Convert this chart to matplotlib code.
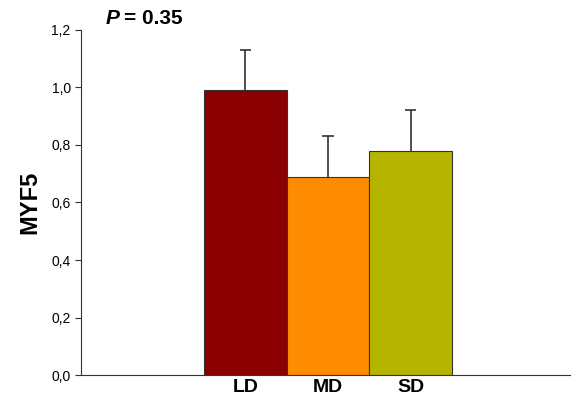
import matplotlib.pyplot as plt
from matplotlib.ticker import FuncFormatter

groups = ["LD", "MD", "SD"]
means = [0.99, 0.69, 0.78]
errors = [0.14, 0.14, 0.14]
colors = ["#8b0000", "#ff8c00", "#b5b500"]

plt.rcParams['font.family'] = ['Liberation Sans', 'DejaVu Sans']

fig = plt.figure(figsize=(5.71, 3.99), dpi=100)
ax = fig.add_axes([0.142, 0.06, 0.856, 0.865])

x = list(range(len(groups)))
ax.bar(x, means, width=1.0, color=colors, edgecolor="#333333", linewidth=0.8, zorder=2)

# upper-only error bars
tops = [m + e for m, e in zip(means, errors)]
ax.vlines(x, means, tops, color="#333333", linewidth=1.2, zorder=3)
ax.hlines(tops, [i - 0.07 for i in x], [i + 0.07 for i in x], color="#333333", linewidth=1.2, zorder=3)

ax.set_xlim(-1.99, 3.93)
ax.set_ylim(0, 1.2)
ax.set_yticks([0, 0.2, 0.4, 0.6, 0.8, 1.0, 1.2])
ax.yaxis.set_major_formatter(FuncFormatter(lambda v, p: f"{v:.1f}".replace(".", ",")))
ax.set_xticks(x)
ax.set_xticklabels(groups, fontsize=14, fontweight="bold")
ax.tick_params(axis="x", length=0, pad=3)
ax.tick_params(axis="y", labelsize=10, length=4, color="#333333")

for s in ["top", "right"]:
    ax.spines[s].set_visible(False)
for s in ["left", "bottom"]:
    ax.spines[s].set_color("#333333")

ax.set_ylabel("MYF5", fontsize=17, fontweight="bold", labelpad=7)
fig.text(0.185, 0.953, "P", fontsize=15, fontweight="bold", style="italic", va="center")
fig.text(0.217, 0.953, "= 0.35", fontsize=15, fontweight="bold", va="center")

fig.savefig("out.png", dpi=100)
